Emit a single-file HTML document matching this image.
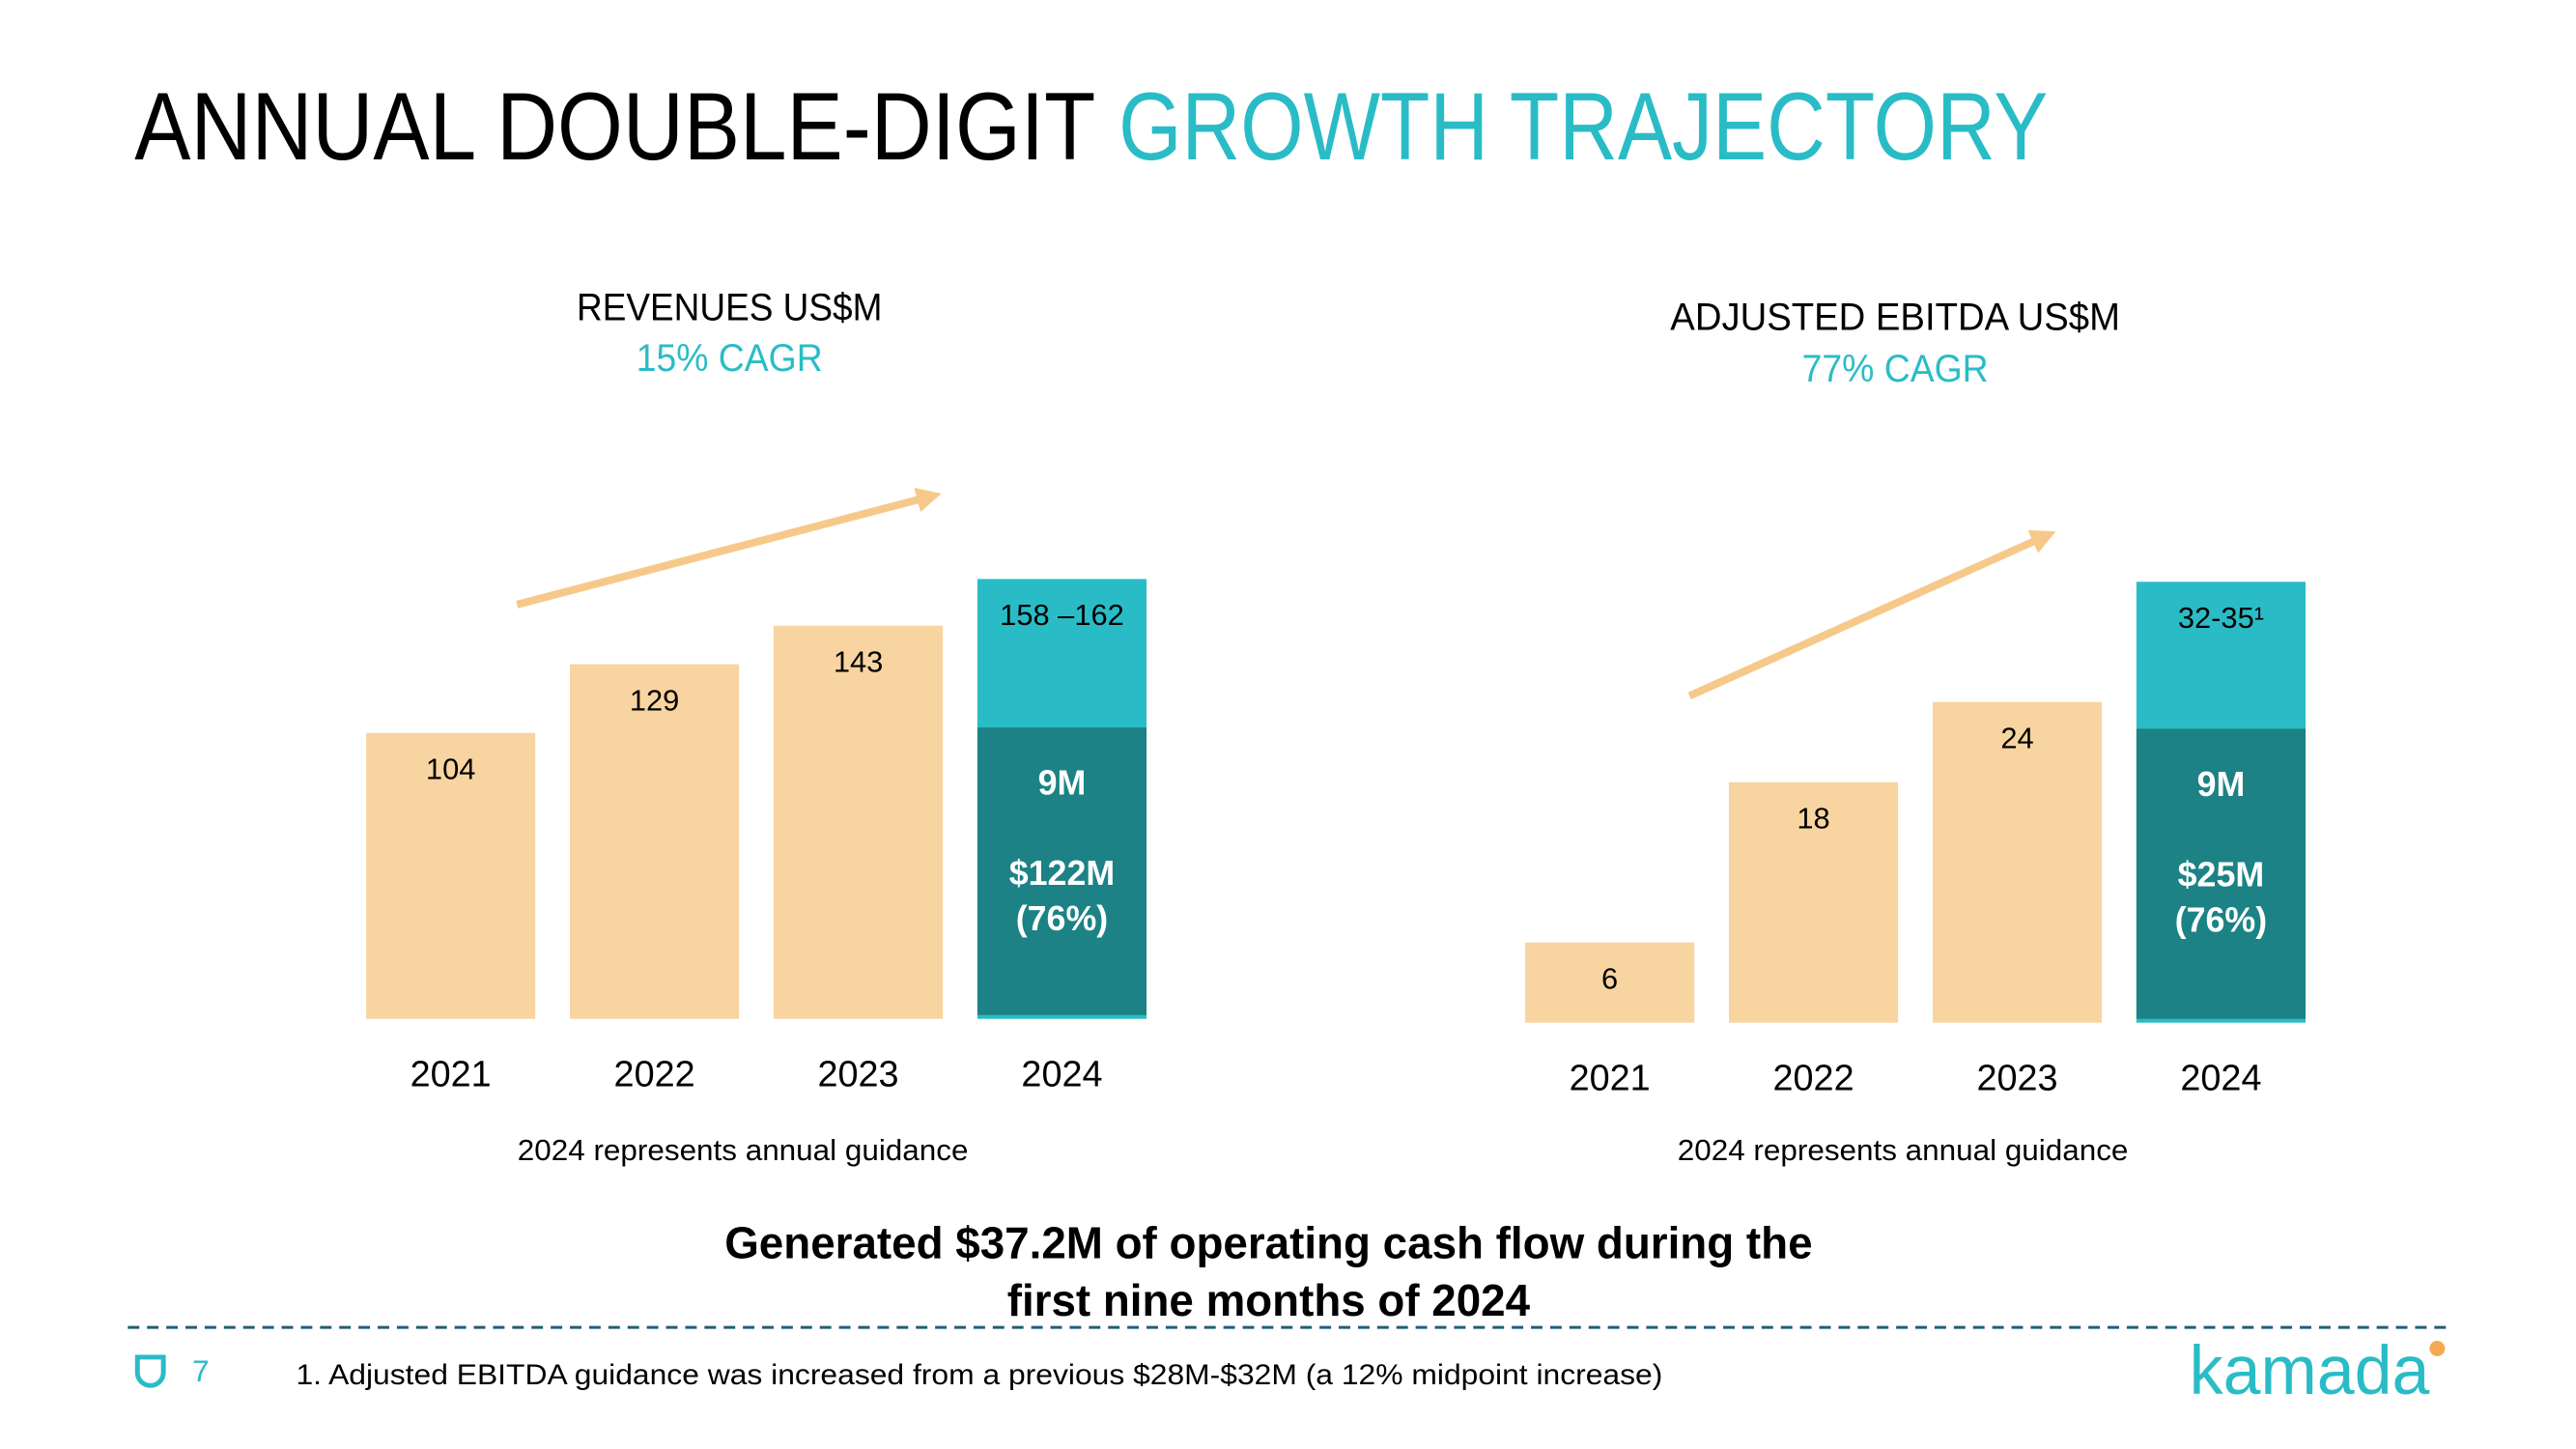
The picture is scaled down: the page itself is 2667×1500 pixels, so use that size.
<!DOCTYPE html>
<html><head><meta charset="utf-8"><style>
html,body{margin:0;padding:0;background:#fff;width:2667px;height:1500px;overflow:hidden}
svg{display:block}
text{font-family:"Liberation Sans",sans-serif}
</style></head><body>
<svg id="slide" width="2667" height="1500" viewBox="0 0 2667 1500" xmlns="http://www.w3.org/2000/svg">
<g transform="scale(0.995)">
<text x="140" y="166" font-size="100" fill="#000" textLength="1000" lengthAdjust="spacingAndGlyphs">ANNUAL DOUBLE-DIGIT</text>
<text x="1164" y="166" font-size="100" fill="#2ABCC6" textLength="967" lengthAdjust="spacingAndGlyphs">GROWTH TRAJECTORY</text>

<text x="759" y="333" font-size="40" text-anchor="middle" fill="#000" textLength="318" lengthAdjust="spacingAndGlyphs">REVENUES US$M</text>
<text x="759" y="386" font-size="40" text-anchor="middle" fill="#2ABCC6" textLength="194" lengthAdjust="spacingAndGlyphs">15% CAGR</text>
<text x="1972" y="343" font-size="40" text-anchor="middle" fill="#000" textLength="468" lengthAdjust="spacingAndGlyphs">ADJUSTED EBITDA US$M</text>
<text x="1972" y="397" font-size="40" text-anchor="middle" fill="#2ABCC6" textLength="194" lengthAdjust="spacingAndGlyphs">77% CAGR</text>

<g id="chart-left"></g>
<g id="chart-right"></g>

<text x="773" y="1207" font-size="31" text-anchor="middle" fill="#000" textLength="469" lengthAdjust="spacingAndGlyphs">2024 represents annual guidance</text>
<text x="1980" y="1207" font-size="31" text-anchor="middle" fill="#000" textLength="469" lengthAdjust="spacingAndGlyphs">2024 represents annual guidance</text>

<text x="1320" y="1309" font-size="47" font-weight="bold" text-anchor="middle" fill="#000" textLength="1132" lengthAdjust="spacingAndGlyphs">Generated $37.2M of operating cash flow during the</text>
<text x="1320" y="1369" font-size="47" font-weight="bold" text-anchor="middle" fill="#000" textLength="544" lengthAdjust="spacingAndGlyphs">first nine months of 2024</text>

<line x1="133" y1="1381" x2="2548" y2="1381" stroke="#1F5F7A" stroke-width="3" stroke-dasharray="12,8"/>
<path d="M143 1412 L170 1412 L170 1428 A13 13 0 1 1 143 1428 Z" fill="none" stroke="#2ABCC6" stroke-width="5"/>
<text x="200" y="1437" font-size="32" fill="#2ABCC6">7</text>
<text x="308" y="1440" font-size="30" fill="#000" textLength="1422" lengthAdjust="spacingAndGlyphs">1. Adjusted EBITDA guidance was increased from a previous $28M-$32M (a 12% midpoint increase)</text>
<text x="2278" y="1450" font-size="72" fill="#2ABCC6" textLength="250" lengthAdjust="spacingAndGlyphs">kamada</text>
<circle cx="2536" cy="1403" r="8" fill="#F4A94E"/>
</g>
</svg>
<script>
// Revenues chart data
const revCategories = ["2021","2022","2023","2024"];
const revValues = [104, 129, 143, 160];
const revLabels = ["104","129","143","158 \u2013162"];
const revInnerValue = 106;
const revInnerLabels = ["9M","$122M","(76%)"];
// EBITDA chart data
const ebCategories = ["2021","2022","2023","2024"];
const ebValues = [6, 18, 24, 33];
const ebLabels = ["6","18","24","32-35\u00B9"];
const ebInnerValue = 22;
const ebInnerLabels = ["9M","$25M","(76%)"];

const NS = "http://www.w3.org/2000/svg";
function mk(tag, attrs, parent){const e=document.createElementNS(NS,tag);for(const k in attrs)e.setAttribute(k,attrs[k]);parent.appendChild(e);return e;}

function drawChart(g, cats, vals, labels, innerVal, innerLabels, cfg){
  const y = v => cfg.base - v*cfg.scale;
  const x = i => cfg.x0 + i*cfg.step;
  cats.forEach((c,i)=>{
    const last = i===cats.length-1;
    const r = mk("rect",{x:x(i),y:y(vals[i]),width:cfg.w,height:cfg.base-y(vals[i]),fill:last?"#2ABCC6":"#F8D4A0"},g);
    
    
    const cx = x(i)+cfg.w/2;
    const t = mk("text",{x:cx,y:y(vals[i])+48,"font-size":31,"text-anchor":"middle",fill:"#000"},g);
    t.textContent = labels[i];
    
    
    if(last){
      const d = mk("rect",{x:x(i),y:y(innerVal),width:cfg.w,height:cfg.base-y(innerVal)-4,fill:"#1D8285"},g);
      
      
      const ys=[y(innerVal)+70, y(innerVal)+164, y(innerVal)+211];
      innerLabels.forEach((s,k)=>{
        const tt = mk("text",{x:cx,y:ys[k],"font-size":36,"font-weight":"bold","text-anchor":"middle",fill:"#fff"},g);
        tt.textContent=s;
        
        
      });
    }
    const yl = mk("text",{x:cx,y:cfg.base+70,"font-size":38,"text-anchor":"middle",fill:"#000"},g);
    yl.textContent=c;
    
    
  });
  const a = mk("line",{x1:cfg.ax1,y1:cfg.ay1,x2:cfg.ax2,y2:cfg.ay2,stroke:"#F6C98A","stroke-width":8},g);
  
  
  const ang=Math.atan2(cfg.ay2-cfg.ay1,cfg.ax2-cfg.ax1), L=26, W=13;
  const tx=cfg.ax2+Math.cos(ang)*10, ty=cfg.ay2+Math.sin(ang)*10;
  const bx=tx-Math.cos(ang)*L, by=ty-Math.sin(ang)*L;
  const p = mk("polygon",{points:`${tx},${ty} ${bx-Math.sin(ang)*W},${by+Math.cos(ang)*W} ${bx+Math.sin(ang)*W},${by-Math.cos(ang)*W}`,fill:"#F6C98A"},g);
  
  
}
drawChart(document.getElementById("chart-left"), revCategories, revValues, revLabels, revInnerValue, revInnerLabels,
  {base:1060, scale:2.86, x0:381, step:212, w:176, ax1:538, ay1:629, ax2:970, ay2:516});
drawChart(document.getElementById("chart-right"), ebCategories, ebValues, ebLabels, ebInnerValue, ebInnerLabels,
  {base:1064, scale:13.9, x0:1587, step:212, w:176, ax1:1758, ay1:724, ax2:2130, ay2:557});
</script>
</body></html>
